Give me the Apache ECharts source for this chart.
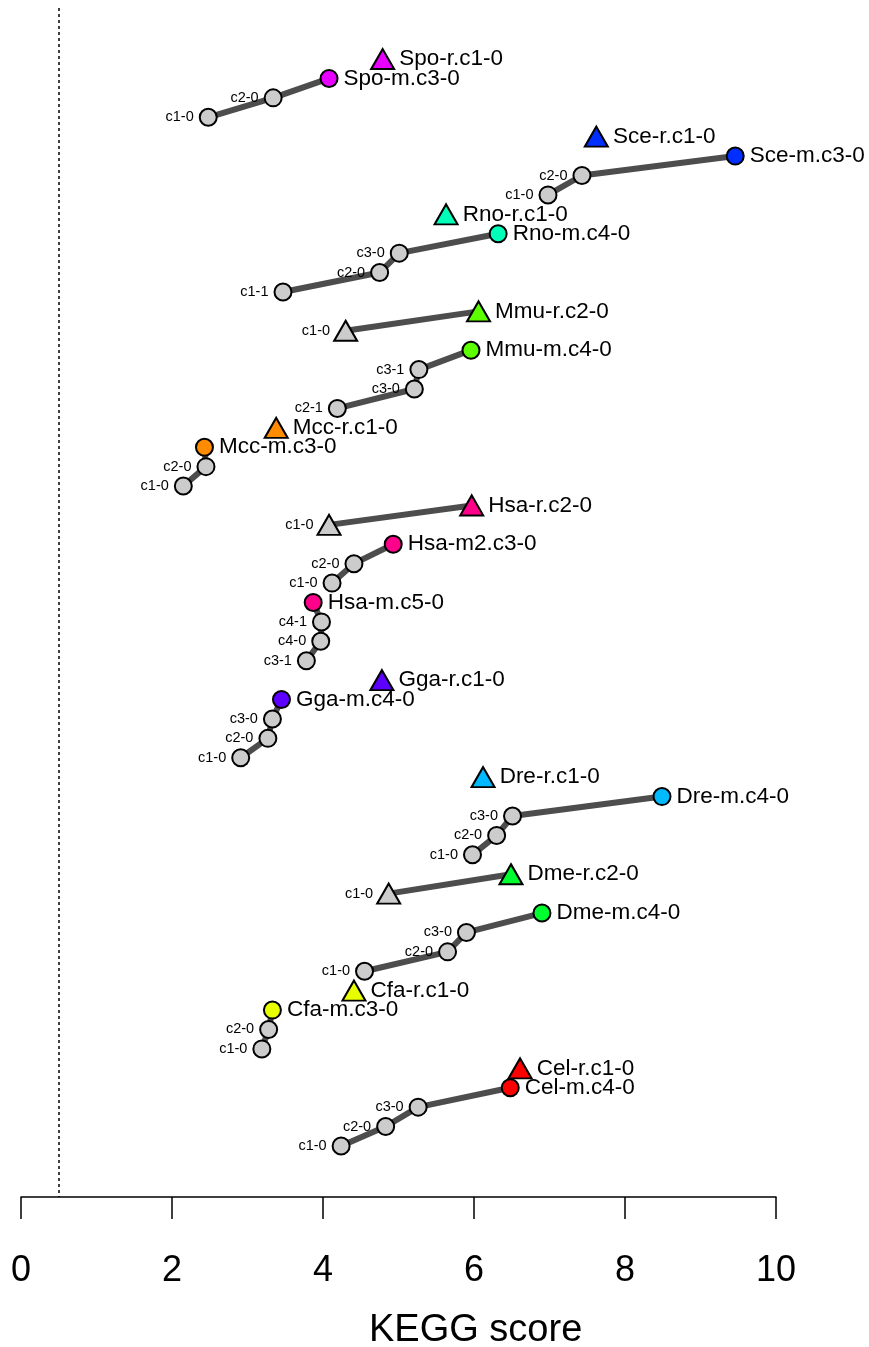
<!DOCTYPE html>
<html>
<head>
<meta charset="utf-8">
<script src="https://cdn.jsdelivr.net/npm/echarts@6/dist/echarts.min.js"></script>
<style>
html,body{margin:0;padding:0;background:#fff;}
#chart{width:869px;height:1347px;}
</style>
</head>
<body>
<div id="chart"></div>
<script>
// Row order (top to bottom), label, KEGG score and path id of every point
const rowLabels = [
  'Spo-r.c1-0','Spo-m.c3-0','c2-0','c1-0',
  'Sce-r.c1-0','Sce-m.c3-0','c2-0','c1-0',
  'Rno-r.c1-0','Rno-m.c4-0','c3-0','c2-0','c1-1',
  'Mmu-r.c2-0','c1-0','Mmu-m.c4-0','c3-1','c3-0','c2-1',
  'Mcc-r.c1-0','Mcc-m.c3-0','c2-0','c1-0',
  'Hsa-r.c2-0','c1-0','Hsa-m2.c3-0','c2-0','c1-0','Hsa-m.c5-0','c4-1','c4-0','c3-1',
  'Gga-r.c1-0','Gga-m.c4-0','c3-0','c2-0','c1-0',
  'Dre-r.c1-0','Dre-m.c4-0','c3-0','c2-0','c1-0',
  'Dme-r.c2-0','c1-0','Dme-m.c4-0','c3-0','c2-0','c1-0',
  'Cfa-r.c1-0','Cfa-m.c3-0','c2-0','c1-0',
  'Cel-r.c1-0','Cel-m.c4-0','c3-0','c2-0','c1-0'
];
const rowScores = [
  4.79,4.08,3.34,2.48,
  7.62,9.46,7.43,6.98,
  5.63,6.32,5.01,4.75,3.47,
  6.06,4.30,5.96,5.27,5.21,4.19,
  3.38,2.43,2.45,2.15,
  5.97,4.08,4.93,4.41,4.12,3.87,3.98,3.97,3.78,
  4.78,3.45,3.33,3.27,2.91,
  6.12,8.49,6.51,6.30,5.98,
  6.49,4.87,6.90,5.90,5.65,4.55,
  4.41,3.33,3.28,3.19,
  6.61,6.48,5.26,4.83,4.24
];
const rowPaths = [
  'Spo-r','Spo-m','Spo-m','Spo-m',
  'Sce-r','Sce-m','Sce-m','Sce-m',
  'Rno-r','Rno-m','Rno-m','Rno-m','Rno-m',
  'Mmu-r','Mmu-r','Mmu-m','Mmu-m','Mmu-m','Mmu-m',
  'Mcc-r','Mcc-m','Mcc-m','Mcc-m',
  'Hsa-r','Hsa-r','Hsa-m2','Hsa-m2','Hsa-m2','Hsa-m','Hsa-m','Hsa-m','Hsa-m',
  'Gga-r','Gga-m','Gga-m','Gga-m','Gga-m',
  'Dre-r','Dre-m','Dre-m','Dre-m','Dre-m',
  'Dme-r','Dme-r','Dme-m','Dme-m','Dme-m','Dme-m',
  'Cfa-r','Cfa-m','Cfa-m','Cfa-m',
  'Cel-r','Cel-m','Cel-m','Cel-m','Cel-m'
];
const speciesNames  = ['Spo','Sce','Rno','Mmu','Mcc','Hsa','Gga','Dre','Dme','Cfa','Cel'];
const speciesColors = ['#E800FF','#002EFF','#00FFB9','#5DFF00','#FF8B00','#FF008B','#5D00FF','#00B9FF','#00FF2E','#E8FF00','#FF0000'];
const xTicks = [0,2,4,6,8,10];
const thresholdScore = 0.5;

const FONT = 'Liberation Sans, Arial, Helvetica, sans-serif';

// group rows into paths
const pathOrder = [];
const pathRows = {};
rowPaths.forEach((p, i) => {
  if (!pathRows[p]) { pathRows[p] = []; pathOrder.push(p); }
  pathRows[p].push(i);
});

const series = pathOrder.map((p, k) => {
  const sp = p.split('-')[0];
  const isR = p.split('-')[1] === 'r';
  const color = speciesColors[speciesNames.indexOf(sp)];
  const data = pathRows[p].map(i => {
    const lab = rowLabels[i];
    const isEnd = !/^c\d/.test(lab);
    return {
      value: [rowScores[i], i],
      name: lab,
      symbol: isR ? 'triangle' : 'circle',
      symbolSize: isR ? [23, 20] : 17,
      itemStyle: { color: isEnd ? color : '#CCCCCC', borderColor: '#000', borderWidth: 2, opacity: 1 },
      label: isEnd
        ? { show: true, position: 'right', distance: isR ? 4 : 5, fontSize: 22.5, color: '#000', fontFamily: FONT, formatter: lab }
        : { show: true, position: 'left', distance: isR ? 3 : 5, fontSize: 14.5, color: '#000', fontFamily: FONT, formatter: lab }
    };
  });
  const s = {
    type: 'line',
    data: data,
    showSymbol: true,
    lineStyle: { color: '#4D4D4D', width: 6 },
    emphasis: { disabled: true },
    z: 3,
    silent: true
  };
  if (k === 0) {
    s.markLine = {
      silent: true,
      symbol: ['none', 'none'],
      label: { show: false },
      lineStyle: { color: '#000', type: [3, 3], width: 1.5 },
      data: [{ xAxis: thresholdScore }],
      z: 1
    };
  }
  return s;
});

const chart = echarts.init(document.getElementById('chart'), null, { renderer: 'canvas' });
chart.setOption({
  animation: false,
  backgroundColor: '#fff',
  title: {
    text: 'KEGG score',
    left: 364,
    top: 1307,
    textStyle: { fontSize: 38, fontWeight: 'normal', color: '#000', fontFamily: FONT }
  },
  grid: { left: 21, right: 93, top: 8, bottom: 150, containLabel: false },
  xAxis: {
    type: 'value',
    min: 0, max: 10, interval: 2,
    axisLine: { show: true, onZero: false, lineStyle: { color: '#000', width: 1.5 } },
    axisTick: { show: true, length: 22, lineStyle: { color: '#000', width: 1.5 } },
    axisLabel: { fontSize: 36, color: '#000', margin: 56, fontFamily: FONT,
      formatter: v => (xTicks.indexOf(v) >= 0 ? String(v) : '') },
    splitLine: { show: false }
  },
  yAxis: {
    type: 'value',
    min: -2.63, max: 58.63,
    inverse: true,
    show: false,
    splitLine: { show: false }
  },
  series: series
});
</script>
</body>
</html>
